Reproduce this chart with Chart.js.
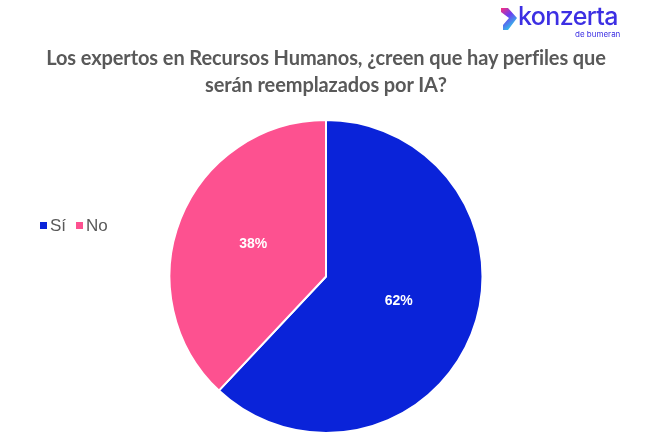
<!DOCTYPE html>
<html>
<head>
<meta charset="utf-8">
<script src="https://cdn.jsdelivr.net/npm/chart.js@4.4.1/dist/chart.umd.min.js"></script>
<style>
  html, body { margin: 0; padding: 0; background: #fff; }
  #wrap { position: relative; width: 661px; height: 439px; overflow: hidden; }
  #chart { position: absolute; left: 0; top: 0; }
  #title {
    position: absolute; left: 0; top: 44px; width: 652px; text-align: center;
    font-family: Lato, "Open Sans", sans-serif; font-weight: bold; font-size: 20px;
    line-height: 27px; color: #595959; letter-spacing: -0.1px;
  }
  #legend {
    position: absolute; left: 40px; top: 216px;
    font-family: "Liberation Sans", Arial, sans-serif; font-size: 17px; color: #595959;
  }
  #legend span.item { margin-right: 10px; }
  #legend i { display: inline-block; width: 7px; height: 7px; margin-right: 3px; vertical-align: 2px; }
  #logo { position: absolute; left: 498px; top: 2px; width: 130px; height: 40px; }
  #logo .word {
    position: absolute; left: 20px; top: -1px; font-family: Inter, Lato, sans-serif;
    font-size: 25px; font-weight: 500; color: #3c2fe3; letter-spacing: -0.6px;
  }
  #logo .sub {
    position: absolute; left: 77px; top: 27px; font-family: Inter, Lato, sans-serif;
    font-size: 8px; color: #3c2fe3;
  }
</style>
</head>
<body>
<div id="wrap">
  <canvas id="chart" width="661" height="439"></canvas>
  <div id="logo">
    <svg width="20" height="30" viewBox="0 0 20 30" style="position:absolute;left:1px;top:3px">
      <defs>
        <linearGradient id="g" x1="0" y1="0" x2="0.6" y2="1">
          <stop offset="0" stop-color="#ff2d7a"/>
          <stop offset="0.45" stop-color="#6b3cf0"/>
          <stop offset="1" stop-color="#2ad1e8"/>
        </linearGradient>
      </defs>
      <path d="M2 3 L9 3 L18 13 L9 25 L4 25 L4 20 L10 13 L2 7 Z" fill="url(#g)"/>
    </svg>
    <span class="word">konzerta</span>
    <span class="sub">de bumeran</span>
  </div>
  <div id="title">Los expertos en Recursos Humanos, ¿creen que hay perfiles que<br>serán reemplazados por IA?</div>
  <div id="legend"></div>
</div>
<script>
// chart data
const labels = ['Sí', 'No'];
const values = [62, 38];
const colors = ['#0a23d9', '#fd5190'];

// simple html legend, same look as the excel one
const legendEl = document.getElementById('legend');
legendEl.innerHTML = labels.map((l, i) =>
  `<span class="item"><i style="background:${colors[i]}"></i>${l}</span>`
).join('');

// percent labels inside slices
const sliceLabels = {
  id: 'sliceLabels',
  afterDatasetsDraw(chart) {
    const ctx = chart.ctx;
    const meta = chart.getDatasetMeta(0);
    const total = values.reduce((a, b) => a + b, 0);
    ctx.save();
    ctx.font = 'bold 14px "Liberation Sans", Arial, sans-serif';
    ctx.fillStyle = '#ffffff';
    ctx.textAlign = 'center';
    ctx.textBaseline = 'middle';
    meta.data.forEach((arc, i) => {
      const pos = arc.tooltipPosition();
      ctx.fillText(Math.round(values[i] / total * 100) + '%', pos.x, pos.y - 4);
    });
    ctx.restore();
  }
};

new Chart(document.getElementById('chart').getContext('2d'), {
  type: 'pie',
  data: {
    labels: labels,
    datasets: [{
      data: values,
      backgroundColor: colors,
      borderColor: '#ffffff',
      borderWidth: 2
    }]
  },
  options: {
    responsive: false,
    animation: false,
    layout: { padding: { top: 119, bottom: 5, left: 0, right: 9 } },
    plugins: {
      legend: { display: false },
      tooltip: { enabled: false }
    }
  },
  plugins: [sliceLabels]
});
</script>
</body>
</html>
